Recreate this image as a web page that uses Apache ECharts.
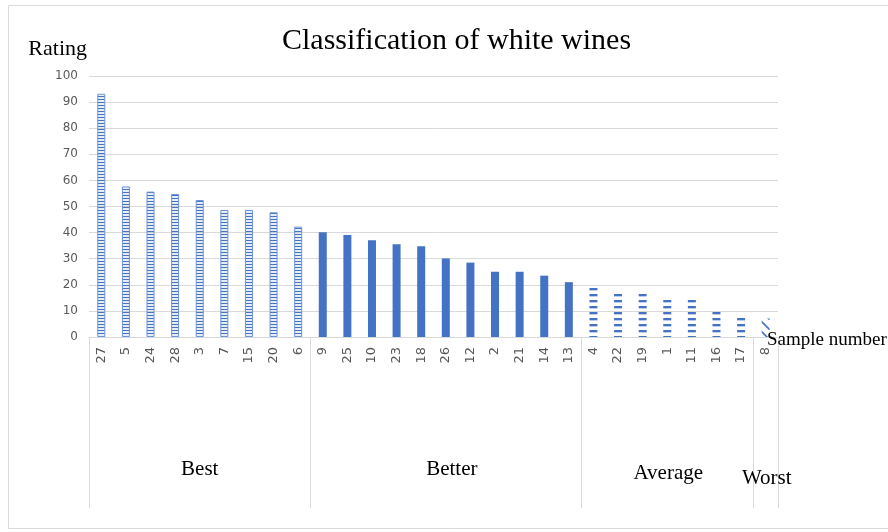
<!DOCTYPE html>
<html>
<head>
<meta charset="utf-8">
<script src="https://cdn.jsdelivr.net/npm/echarts@6/dist/echarts.min.js"></script>
<style>
  html, body { margin: 0; padding: 0; background: #fff; }
  #chart { width: 888px; height: 532px; }
</style>
</head>
<body>
<div id="chart"></div>
<script>
// Sample numbers and ratings, one pair of arrays per quality class
const bestSamples = ['27', '5', '24', '28', '3', '7', '15', '20', '6'];
const bestRatings = [93.2, 57.7, 55.7, 54.8, 52.5, 48.7, 48.7, 47.8, 42.3];

const betterSamples = ['9', '25', '10', '23', '18', '26', '12', '2', '21', '14', '13'];
const betterRatings = [40.1, 39.1, 37.1, 35.5, 34.8, 30.1, 28.5, 25.0, 25.0, 23.5, 21.0];

const averageSamples = ['4', '22', '19', '1', '11', '16', '17'];
const averageRatings = [19.9, 17.6, 17.6, 15.1, 15.1, 10.2, 8.0];

const worstSamples = ['8'];
const worstRatings = [7.1];

const groupNames = ['Best', 'Better', 'Average', 'Worst'];

// Rating axis range
const ratingMin = 0;
const ratingMax = 100;
const ratingStep = 10;

// ---------------------------------------------------------------------------
const groups = [
  { samples: bestSamples, ratings: bestRatings },
  { samples: betterSamples, ratings: betterRatings },
  { samples: averageSamples, ratings: averageRatings },
  { samples: worstSamples, ratings: worstRatings }
];

function makePattern(w, h, draw) {
  const c = document.createElement('canvas');
  c.width = w;
  c.height = h;
  draw(c.getContext('2d'));
  return { image: c, repeat: 'repeat' };
}

const BLUE = '#4472C4';

// Fill style for each class: ladder, solid, dashes, diagonal hatch
const groupItemStyles = [
  {
    color: makePattern(1, 3, ctx => {
      ctx.fillStyle = BLUE;
      ctx.fillRect(0, 0, 1, 1);
      ctx.fillStyle = 'rgba(68,114,196,0.12)';
      ctx.fillRect(0, 1, 1, 2);
    }),
    borderColor: '#6b93da',
    borderWidth: 1
  },
  { color: BLUE },
  {
    color: makePattern(1, 6, ctx => {
      ctx.fillStyle = BLUE;
      ctx.fillRect(0, 0, 1, 2);
      ctx.fillStyle = 'rgba(68,114,196,0.35)';
      ctx.fillRect(0, 2, 1, 1);
    })
  },
  {
    color: makePattern(10, 10, ctx => {
      ctx.strokeStyle = BLUE;
      ctx.lineWidth = 1.6;
      ctx.beginPath();
      ctx.moveTo(0, 0);
      ctx.lineTo(10, 10);
      ctx.stroke();
    })
  }
];

// Group label nudges (rich text styles)
const groupLabelRich = {
  g0: { padding: [0, 0, 0, 0] },
  g1: { padding: [0, 0, 0, 12] },
  g2: { padding: [4, 0, 0, 2] },
  g3: { padding: [9, 0, 0, 2] }
};

const categories = [];
const barData = [];
const boundaries = [0];
const centers = [];
groups.forEach((g, gi) => {
  const start = categories.length;
  g.samples.forEach((s, i) => {
    categories.push(s);
    barData.push({ value: g.ratings[i], itemStyle: groupItemStyles[gi] });
  });
  boundaries.push(categories.length);
  centers.push((start + categories.length) / 2);
});

const serif = 'Liberation Serif, Times New Roman, serif';
const sans = 'DejaVu Sans, sans-serif';
const GRID = '#d9d9d9';

const chart = echarts.init(document.getElementById('chart'), null, { renderer: 'canvas' });

chart.setOption({
  animation: false,
  backgroundColor: '#fff',
  title: [{
    text: 'Classification of white wines',
    left: 282,
    top: 26,
    padding: 0,
    textStyle: { fontFamily: serif, fontSize: 30, fontWeight: 'normal', color: '#000' }
  }, {
    // category axis caption, sitting just past the axis end
    text: 'Sample number',
    left: 767,
    top: 331,
    padding: 0,
    textStyle: { fontFamily: serif, fontSize: 19, fontWeight: 'normal', color: '#000' }
  }],
  graphic: [{
    type: 'rect',
    silent: true,
    shape: { x: 8.5, y: 5.5, width: 900, height: 523 },
    style: { fill: null, stroke: '#d9d9d9', lineWidth: 1 }
  }],
  grid: {
    left: 89,
    right: 110,
    top: 76,
    bottom: 195,
    containLabel: false,
    outerBoundsMode: 'none'
  },
  xAxis: [{
    type: 'category',
    data: categories,
    axisLine: { lineStyle: { color: GRID, width: 1 } },
    axisTick: { show: false },
    axisLabel: {
      interval: 0,
      rotate: 90,
      margin: 10,
      fontFamily: sans,
      fontSize: 13,
      color: '#595959'
    },
    splitLine: { show: false }
  }, {
    type: 'value',
    position: 'bottom',
    min: 0,
    max: categories.length,
    axisLine: { show: false },
    axisTick: {
      show: true,
      customValues: boundaries,
      length: 171,
      lineStyle: { color: GRID, width: 1 }
    },
    axisLabel: {
      customValues: centers,
      margin: 122,
      fontFamily: serif,
      fontSize: 21,
      color: '#000',
      formatter: v => {
        const i = centers.indexOf(v);
        return i < 0 ? '' : '{g' + i + '|' + groupNames[i] + '}';
      },
      rich: groupLabelRich
    },
    splitLine: { show: false }
  }],
  yAxis: {
    type: 'value',
    min: ratingMin,
    max: ratingMax,
    interval: ratingStep,
    name: 'Rating',
    nameLocation: 'end',
    nameGap: 27,
    nameTextStyle: {
      fontFamily: serif, fontSize: 22, color: '#000',
      align: 'right', verticalAlign: 'middle', padding: [0, 2, 0, 0]
    },
    axisLine: { show: false },
    axisTick: { show: false },
    axisLabel: { margin: 11, fontFamily: sans, fontSize: 12, color: '#595959' },
    splitLine: { lineStyle: { color: GRID, width: 1 } }
  },
  series: [{
    type: 'bar',
    xAxisIndex: 0,
    yAxisIndex: 0,
    barWidth: 8,
    data: barData
  }]
});
</script>
</body>
</html>
